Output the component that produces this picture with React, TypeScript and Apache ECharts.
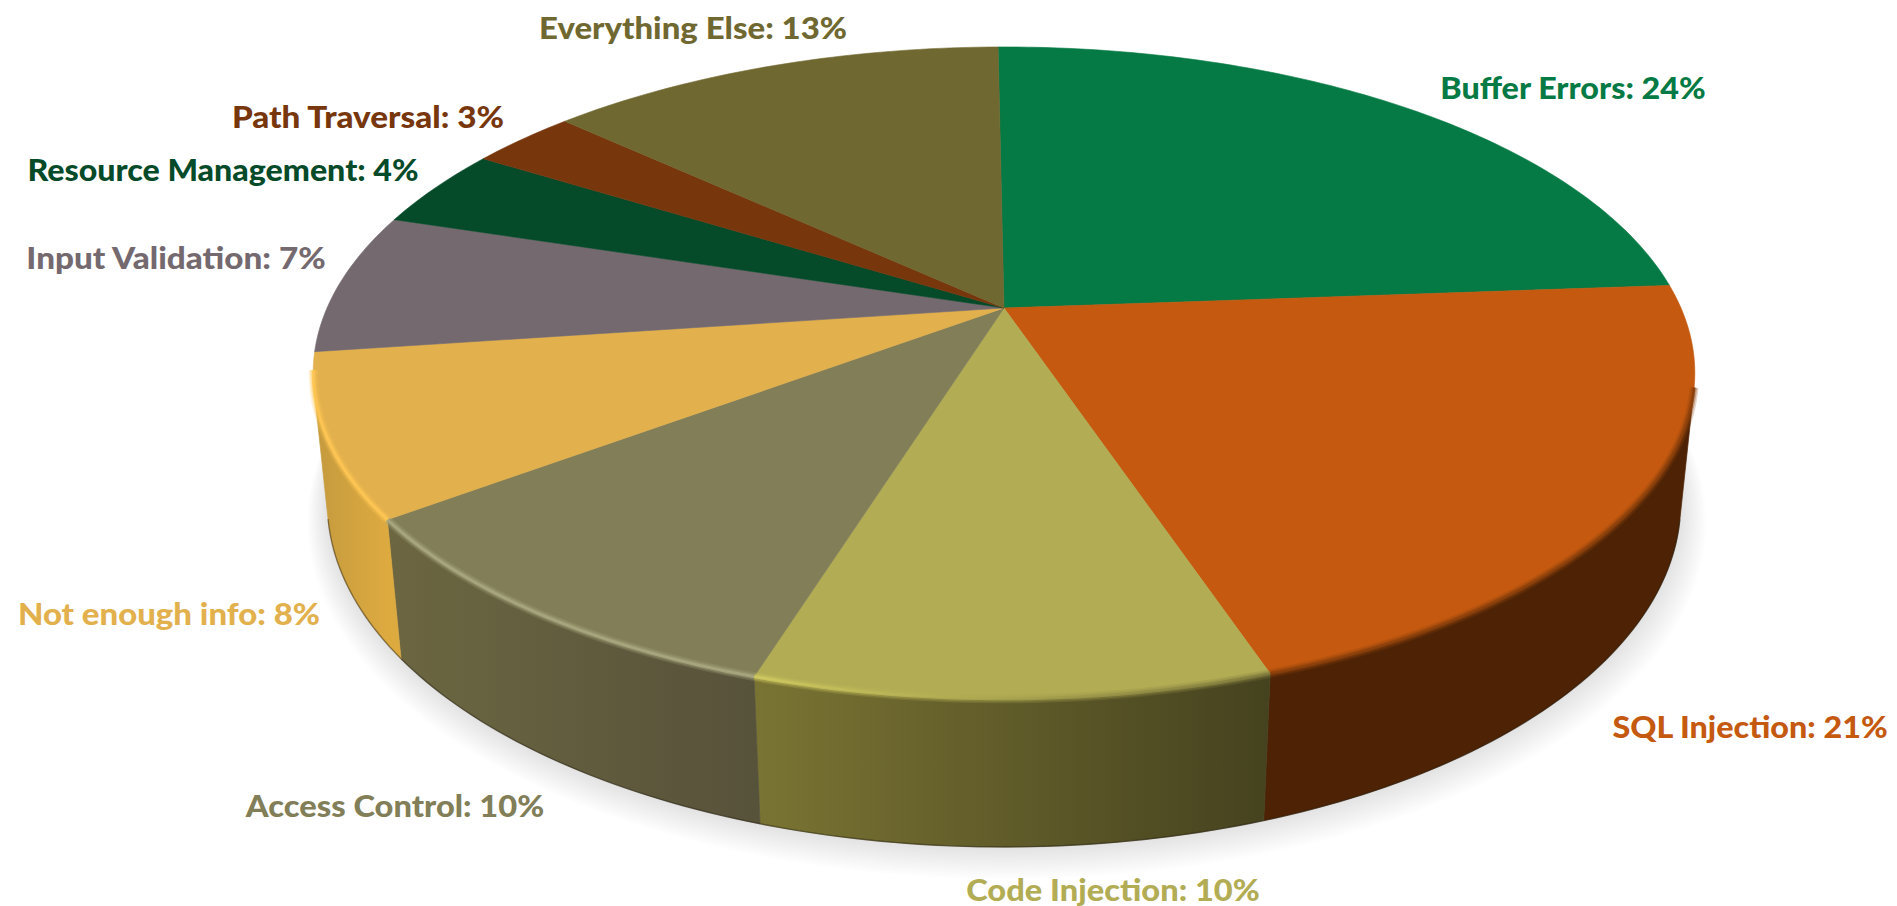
import React, { useEffect, useRef } from "react";
import * as echarts from "echarts";

// Vulnerability categories, clockwise from twelve o'clock.
const categories = [
  "Buffer Errors",
  "SQL Injection",
  "Code Injection",
  "Access Control",
  "Not enough info",
  "Input Validation",
  "Resource Management",
  "Path Traversal",
  "Everything Else",
];
const shares = [24, 21, 10, 10, 8, 7, 4, 3, 13];

const faceColors = ["#067A44", "#C4590F", "#B2AC54", "#817E58", "#E2B04C", "#74696F", "#054A29", "#77360C", "#706831"];
const wallLeftColors = ["#03401F", "#4E2305", "#7A7433", "#6C6741", "#C49A3E", "#5A5056", "#03301A", "#4E2305", "#4A4420"];
const wallRightColors = ["#03401F", "#4E2305", "#45421F", "#57523A", "#DDAA40", "#5A5056", "#03301A", "#4E2305", "#4A4420"];
const rimLeftColors = ["#067A44", "#8A3F0A", "#D0CB60", "#A9A880", "#FFC653", "#74696F", "#054A29", "#77360C", "#706831"];
const rimRightColors = ["#067A44", "#8A3F0A", "#7F7A3C", "#A9A880", "#FFC653", "#74696F", "#054A29", "#77360C", "#706831"];

const labelCenterX = [1573, 1750, 1113, 395, 169, 176, 223, 368, 693];
const labelCenterY = [87, 726, 889, 805, 613, 258, 169, 117, 27];
const labelScaleX = [1.06, 1.06, 1.07, 1.07, 1.08, 1.09, 1.055, 1.09, 1.08];

// Perspective projection of the disc: the far edge is foreshortened, the near edge enlarged.
const CX = 1004;
const CY = 308;
const RX = 677;
const RY = 313;
const TILT = 0.199;
const DEPTH = 0.02;
const THICK = 129.5;
const FIRST_SLICE_ANGLE = -0.6;
// Angles between which the side wall faces the viewer.
const WALL_FROM = 104;
const WALL_TO = 256;

function project(deg: number, level: number): number[] {
  const t = (deg * Math.PI) / 180;
  const u = Math.sin(t);
  const v = -Math.cos(t);
  const w = 1 - TILT * v + DEPTH * level;
  return [CX + (RX * u) / w, CY + (RY * v + THICK * level) / w];
}

function arc(from: number, to: number, level: number): number[][] {
  const n = Math.max(2, Math.ceil(Math.abs(to - from) / 1));
  const pts: number[][] = [];
  for (let i = 0; i <= n; i++) pts.push(project(from + ((to - from) * i) / n, level));
  return pts;
}

const total = shares.reduce((a, b) => a + b, 0);
const running: number[] = [];
shares.reduce((acc, s) => {
  running.push(acc);
  return acc + s;
}, 0);
const sliceData = shares.map((s, i) => [s, running[i], i]);

function sliceAngles(api: any) {
  const start = (api.value(1) / total) * 360 + FIRST_SLICE_ANGLE;
  const end = ((api.value(1) + api.value(0)) / total) * 360 + FIRST_SLICE_ANGLE;
  return [start, end];
}

function horizontalPaint(from: number, to: number, left: string, right: string) {
  const xa = project(to, 0)[0];
  const xb = project(from, 0)[0];
  return new (echarts.graphic as any).LinearGradient(
    Math.min(xa, xb), 0, Math.max(xa, xb), 0,
    [
      { offset: 0, color: left },
      { offset: 1, color: right },
    ],
    true,
  );
}

// Soft drop shadow: stacked, faint, growing copies of the base outline.
function renderShadow() {
  const base = arc(0, 360, 1);
  const pivotY = CY + THICK;
  const children: any[] = [];
  for (let k = 14; k >= 1; k--) {
    const s = 1 + k * 0.0024;
    children.push({
      type: "polygon",
      silent: true,
      shape: { points: base.map((p) => [CX + (p[0] - CX) * s + k * 0.2, pivotY + (p[1] - pivotY) * s + k * 1.3]) },
      style: { fill: "#000000", opacity: 0.009 },
    });
  }
  return { type: "group", children };
}

function renderWall(_: any, api: any) {
  const [start, end] = sliceAngles(api);
  const i = api.value(2);
  const from = Math.max(start, WALL_FROM);
  const to = Math.min(end, WALL_TO);
  if (to <= from) return { type: "group", children: [] };
  const bottom = arc(from, to, 1);
  const paint = horizontalPaint(from, to, wallLeftColors[i], wallRightColors[i]);
  return {
    type: "group",
    children: [
      {
        type: "polygon",
        silent: true,
        shape: { points: [...arc(from, to, 0), ...bottom.slice().reverse()] },
        style: { fill: paint, stroke: paint, lineWidth: 0.7 },
      },
      {
        type: "polyline",
        silent: true,
        shape: { points: bottom },
        style: { fill: null, stroke: "rgba(30,25,10,0.45)", lineWidth: 1.4 },
      },
    ],
  };
}

function renderFace(_: any, api: any) {
  const [start, end] = sliceAngles(api);
  const i = api.value(2);
  return {
    type: "polygon",
    silent: true,
    shape: { points: [[CX, CY], ...arc(start, end, 0)] },
    style: { fill: faceColors[i], stroke: faceColors[i], lineWidth: 0.6 },
  };
}

// Bevelled edge of the top face: a wide faint band with a brighter core.
function renderRim(_: any, api: any) {
  const [start, end] = sliceAngles(api);
  const i = api.value(2);
  const from = Math.max(start, WALL_FROM);
  const to = Math.min(end, 259);
  if (to <= from) return { type: "group", children: [] };
  const paint = horizontalPaint(from, to, rimLeftColors[i], rimRightColors[i]);
  const points = arc(from, to, 0);
  const stroke = (lineWidth: number, opacity: number) => ({
    type: "polyline",
    silent: true,
    shape: { points },
    style: { fill: null, stroke: paint, lineWidth, opacity, lineCap: "butt" },
  });
  return { type: "group", children: [stroke(9, 0.22), stroke(6, 0.35), stroke(3, 0.85)] };
}

function renderLabel(_: any, api: any) {
  const i = api.value(2);
  return {
    type: "text",
    silent: true,
    x: labelCenterX[i],
    y: labelCenterY[i],
    scaleX: labelScaleX[i],
    style: {
      text: `${categories[i]}: ${api.value(0)}%`,
      fill: faceColors[i],
      font: '900 30.5px Lato, "Open Sans", sans-serif',
      align: "center",
      verticalAlign: "middle",
    },
  };
}

export default function App() {
  const hostRef = useRef<HTMLDivElement>(null);

  useEffect(() => {
    const chart = echarts.init(hostRef.current!, null, { renderer: "svg" });
    const layer = (renderItem: any, data: any[], z: number) => ({
      type: "custom",
      coordinateSystem: "none",
      renderItem,
      data,
      z,
      silent: true,
    });
    chart.setOption({
      animation: false,
      backgroundColor: "#ffffff",
      tooltip: { show: false },
      series: [
        layer(renderShadow, [[1]], 1),
        layer(renderWall, sliceData, 2),
        layer(renderFace, sliceData, 3),
        layer(renderRim, sliceData, 4),
        layer(renderLabel, sliceData, 5),
      ],
    });
    return () => chart.dispose();
  }, []);

  return (
    <div
      ref={hostRef}
      style={{ position: "absolute", left: 0, top: 0, width: 1897, height: 906, background: "#fff" }}
    />
  );
}
